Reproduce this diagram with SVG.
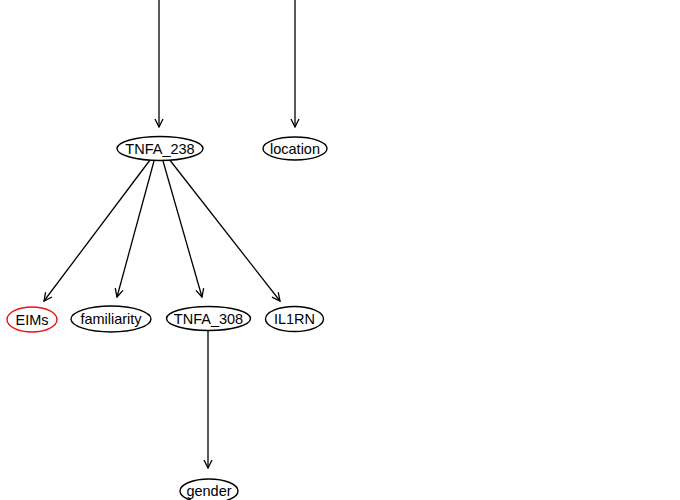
<svg xmlns="http://www.w3.org/2000/svg" width="680" height="500" viewBox="0 0 680 500">
<style>
.n ellipse{fill:#fff;stroke:#000;stroke-width:1.4}
.n text{font-family:"Liberation Sans",Arial,sans-serif;font-size:14.5px;text-anchor:middle;fill:#000}
.e line{stroke:#000;stroke-width:1.3}
</style>
<defs>
<marker id="arr" viewBox="-9 -5 10 10" refX="0" refY="0" markerWidth="10" markerHeight="10" markerUnits="userSpaceOnUse" orient="auto">
<path d="M-8,-4 L0,0 L-8,4" fill="none" stroke="#000" stroke-width="1.3"/>
</marker>
</defs>
<rect width="680" height="500" fill="#fff"/>
<g id="edges" class="e">
<line x1="159" y1="0" x2="159" y2="127" marker-end="url(#arr)"/>
<line x1="295" y1="0" x2="295" y2="127" marker-end="url(#arr)"/>
<line x1="150" y1="160" x2="44" y2="301" marker-end="url(#arr)"/>
<line x1="154" y1="161" x2="117" y2="297" marker-end="url(#arr)"/>
<line x1="163" y1="161" x2="202" y2="297" marker-end="url(#arr)"/>
<line x1="169" y1="159" x2="280" y2="301" marker-end="url(#arr)"/>
<line x1="208" y1="331" x2="208" y2="468" marker-end="url(#arr)"/>
</g>
<g id="TNFA_238" class="n"><ellipse cx="160" cy="148.5" rx="43" ry="12"/><text x="160" y="153.5">TNFA_238</text></g>
<g id="location" class="n"><ellipse cx="295" cy="148.5" rx="32" ry="11.5"/><text x="295" y="153.5">location</text></g>
<g id="EIMs" class="n"><ellipse cx="32" cy="319.5" rx="25" ry="12.5" style="stroke:#e8141c"/><text x="32" y="324.5">EIMs</text></g>
<g id="familiarity" class="n"><ellipse cx="111" cy="319" rx="40" ry="13"/><text x="111" y="324">familiarity</text></g>
<g id="TNFA_308" class="n"><ellipse cx="208.5" cy="318.5" rx="42" ry="12"/><text x="208.5" y="323.5">TNFA_308</text></g>
<g id="IL1RN" class="n"><ellipse cx="294.5" cy="319" rx="29" ry="12.5"/><text x="294.5" y="324">IL1RN</text></g>
<g id="gender" class="n"><ellipse cx="209" cy="491" rx="29" ry="12"/><text x="209" y="496">gender</text></g>
</svg>
